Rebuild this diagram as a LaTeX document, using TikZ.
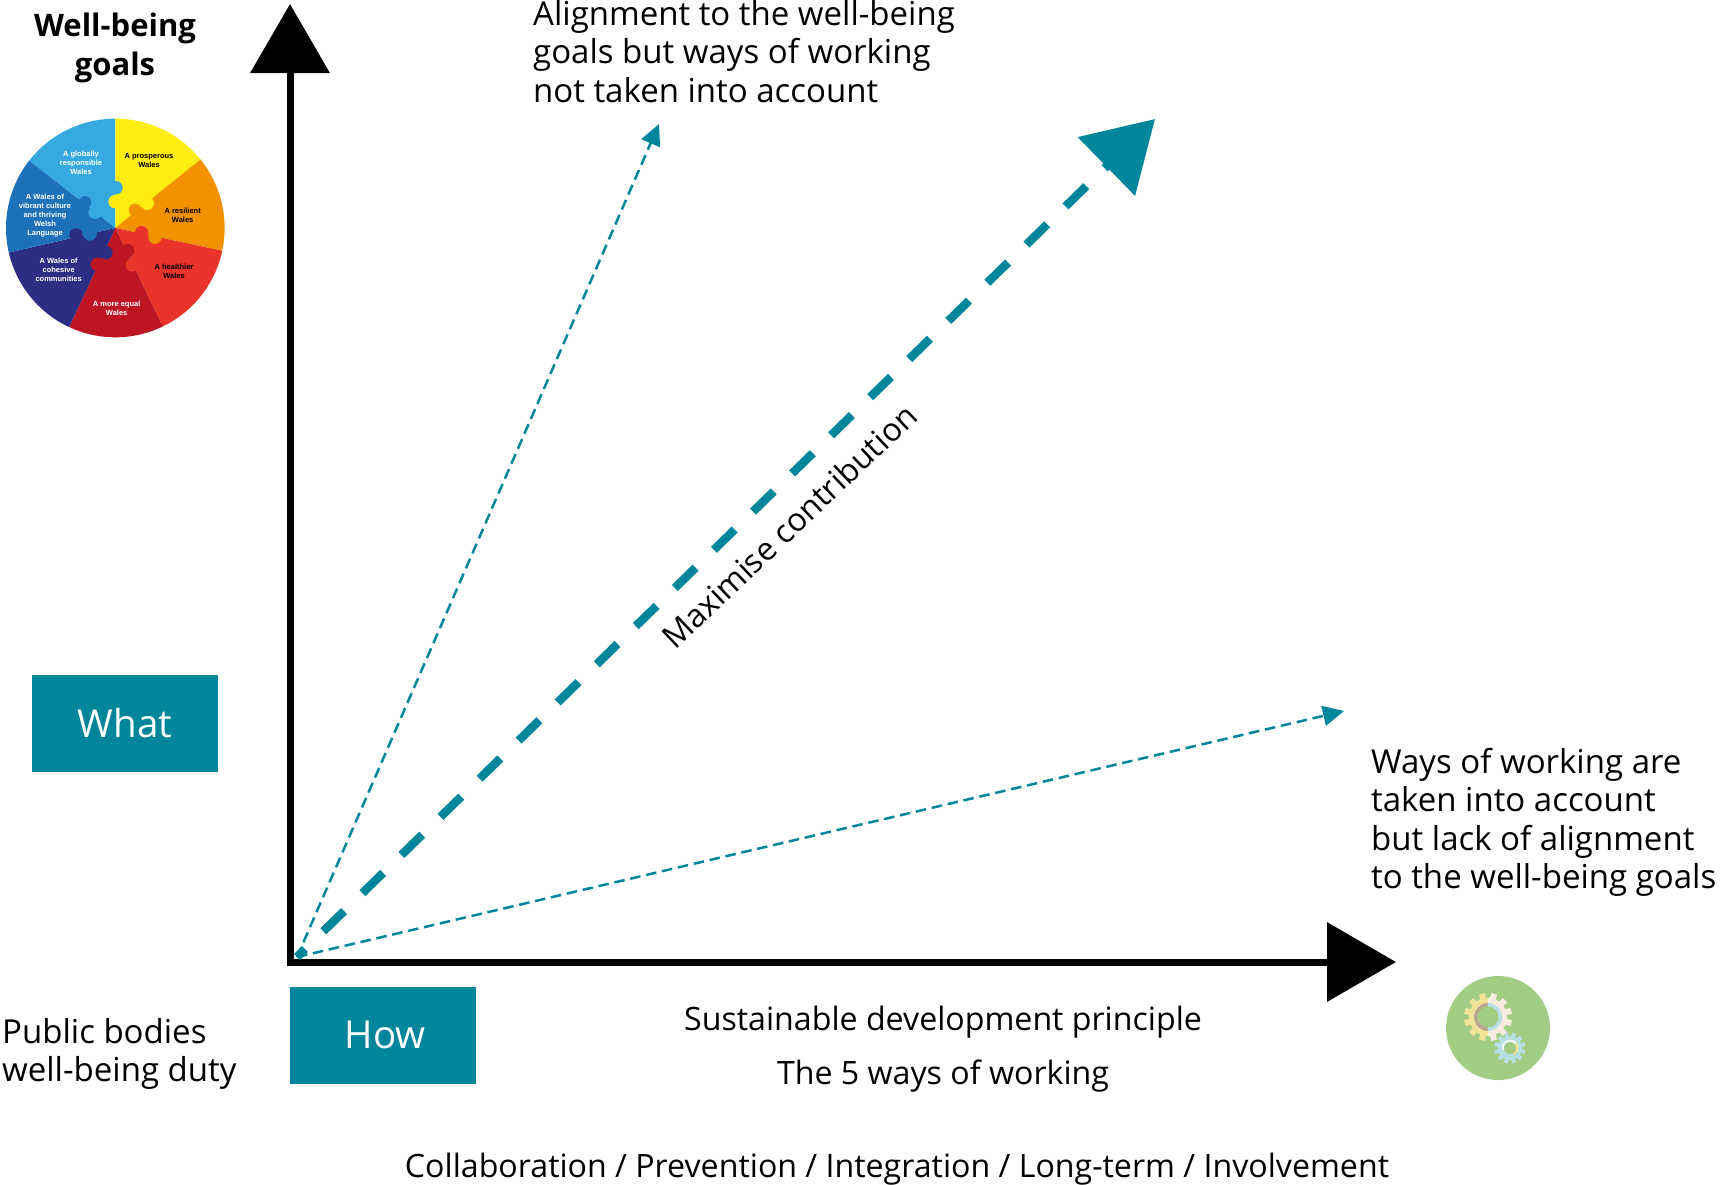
\documentclass[tikz,border=0pt]{standalone}
\usepackage{fontspec}
\setmainfont{Open Sans}
\newfontfamily\wheelfont{Liberation Sans}
\usetikzlibrary{arrows.meta}
\definecolor{teal}{HTML}{00869B}
\definecolor{gy}{HTML}{FFEC10}
\definecolor{go}{HTML}{F39200}
\definecolor{gr}{HTML}{E9342B}
\definecolor{gc}{HTML}{BE1523}
\definecolor{gn}{HTML}{2C2E83}
\definecolor{gb}{HTML}{1D71B8}
\definecolor{gl}{HTML}{36A9E1}
\definecolor{gg}{HTML}{A3CD85}
\definecolor{gyl}{HTML}{F2E39B}
\definecolor{gcr}{HTML}{F6ECDF}
\definecolor{gbl}{HTML}{B7E0E4}
\definecolor{gbr}{HTML}{B9A893}
\tikzset{
  lab/.style={font=\fontsize{33}{38.4}\selectfont,inner sep=0pt,align=left,anchor=north west},
  labc/.style={font=\fontsize{32.15}{38}\selectfont,inner sep=0pt,anchor=base},
  boldlab/.style={font=\bfseries\fontsize{31}{38}\selectfont,inner sep=0pt,anchor=base},
  tealbox/.style={fill=teal,text=white,minimum width=186pt,minimum height=97pt,inner sep=0pt,font=\fontsize{38.5}{40}\selectfont},
  axis/.style={line width=7pt,{Triangle[length=69pt,width=78pt]}-{Triangle[length=69pt,width=78pt]},black,miter limit=10},
  thinarrow/.style={teal,line width=2.5pt,dash pattern=on 10.5pt off 5.8pt,-{Triangle[length=21pt,width=20pt]}},
  thickarrow/.style={teal,line width=8.5pt,dash pattern=on 29pt off 25.6pt,dash phase=17.8pt,-{Triangle[length=68pt,width=80pt]}},
  wl/.style={font=\wheelfont\bfseries\fontsize{7.5}{9}\selectfont,align=center,inner sep=0pt},
}
\begin{document}
\begin{tikzpicture}[x=1pt,y=-1pt]
\useasboundingbox (0,0) rectangle (1720,1184);
% wheel
\begin{scope}[shift={(0,100)},x=0.3333pt,y=-0.3333pt]
  \begin{scope}[shift={(346,384)},y=0.3333pt]
    \def\R{328}
    \fill[gl] (0,0) -- (142:\R) arc (142:90:\R) -- cycle;
    \fill[gy] (0,0) -- (90:\R) arc (90:38.8:\R) -- cycle;
    \fill[go] (0,0) -- (38.8:\R) arc (38.8:-12:\R) -- cycle;
    \fill[gr] (0,0) -- (-12:\R) arc (-12:-64.3:\R) -- cycle;
    \fill[gc] (0,0) -- (-64.3:\R) arc (-64.3:-115:\R) -- cycle;
    \fill[gn] (0,0) -- (-115:\R) arc (-115:-167:\R) -- cycle;
    \fill[gb] (0,0) -- (-167:\R) arc (-167:-218:\R) -- cycle;
  \end{scope}
  \fill[gl] (348,263) circle (20);
  \fill[gy] (345,305) circle (20);
  \fill[go] (405,330) circle (19);
  \fill[gy] (442,310) circle (20);
  \fill[gr] (425,398) circle (20);
  \fill[go] (465,412) circle (20);
  \fill[gc] (383,452) circle (20);
  \fill[gr] (397,495) circle (20);
  \fill[gn] (318,458) circle (20);
  \fill[gc] (292,493) circle (20);
  \fill[gn] (228,405) circle (20);
  \fill[gb] (270,402) circle (20);
  \fill[gb] (255,307) circle (19);
  \fill[gl] (285,337) circle (20);
  \node[wl,text=white] (t1) at (243,188) {A globally\\responsible\\Wales};
  \node[wl,text=black] (t2) at (447,180) {A prosperous\\Wales};
  \node[wl,text=black] (t3) at (548,345) {A resilient\\Wales};
  \node[wl,text=black] (t4) at (522,513) {A healthier\\Wales};
  \node[wl,text=white] (t5) at (350,624) {A more equal\\Wales};
  \node[wl,text=white] (t6) at (176,509) {A Wales of\\cohesive\\communities};
  \node[wl,text=white] (t7) at (135,346) {A Wales of\\vibrant culture\\and thriving\\Welsh\\Language};
\end{scope}
% axes
\coordinate (o) at (290,962);
\coordinate (ytip) at (290,4);
\coordinate (xtip) at (1396,962);
\draw[axis] (ytip) -- (o) -- (xtip);
% teal arrows
\coordinate (s) at (297,957);
\coordinate (a1) at (659,124);
\coordinate (a2) at (1155,119);
\coordinate (a3) at (1344,711);
\draw[thinarrow] (s) -- (a1);
\draw[thinarrow] (s) -- (a3);
\draw[thickarrow] (s) -- (a2);
% boxes
\node[tealbox] (what) at (125,723) {What};
\node[tealbox] (how) at (383,1035) {\hspace{4pt}How};
% labels
\node[boldlab] (wb) at (115,36) {Well-being};
\node[boldlab] (wb2) at (115,75) {goals};
\node[lab] (align) at (533,0) {Alignment to the well-being\\goals but ways of working\\not taken into account};
\node[lab] (ways) at (1371,748) {Ways of working are\\taken into account\\but lack of alignment\\to the well-being goals};
\node[lab] (duty) at (2,1018) {Public bodies\\well-being duty};
\node[labc] (sd) at (943,1030) {Sustainable development principle};
\node[labc] (five) at (943,1084.5) {The 5 ways of working};
\node[labc] (coll) at (897,1177) {Collaboration / Prevention / Integration / Long-term / Involvement};
\node[font=\fontsize{32.15}{38}\selectfont,inner sep=0pt,rotate=43.5] (max) at (789,526) {Maximise contribution};
% gears icon
\fill[gg] (1498,1028) circle (52);
\begin{scope}[shift={(1488,1017)},y=1pt]
  \foreach \k in {0,...,11}{
    \pgfmathsetmacro{\aa}{\k*30+15}
    \pgfmathparse{(\aa>90 && \aa<270)?1:0}
    \ifnum\pgfmathresult=1 \def\cc{gyl}\else\def\cc{gcr}\fi
    \fill[\cc,rotate=\aa] (17,-3) rectangle (24,3);
  }
  \fill[gyl] (90:19) arc (90:270:19) -- cycle;
  \fill[gcr] (-90:19) arc (-90:90:19) -- cycle;
  \fill[gbr] (90:14) arc (90:270:14) -- cycle;
  \fill[gbl] (-90:14) arc (-90:90:14) -- cycle;
  \fill[gg] (0,0) circle (10.5);
\end{scope}
\begin{scope}[shift={(1510,1048)},y=1pt]
  \foreach \k in {0,...,11}{
    \fill[gbl,rotate=\k*30+15] (10,-2) rectangle (15.5,2);
  }
  \fill[gbl] (0,0) circle (12);
  \fill[gg] (0,0) circle (8.5);
  \fill[gyl] (-60:8.5) arc (-60:40:8.5) -- (40:6) arc (40:-60:6) -- cycle;
  \fill[white!80!gbl] (40:8.5) arc (40:200:8.5) -- (200:6) arc (200:40:6) -- cycle;
  \fill[gbl] (200:8.5) arc (200:300:8.5) -- (300:6) arc (300:200:6) -- cycle;
  \fill[gg] (0,0) circle (6);
\end{scope}
\end{tikzpicture}
\end{document}
